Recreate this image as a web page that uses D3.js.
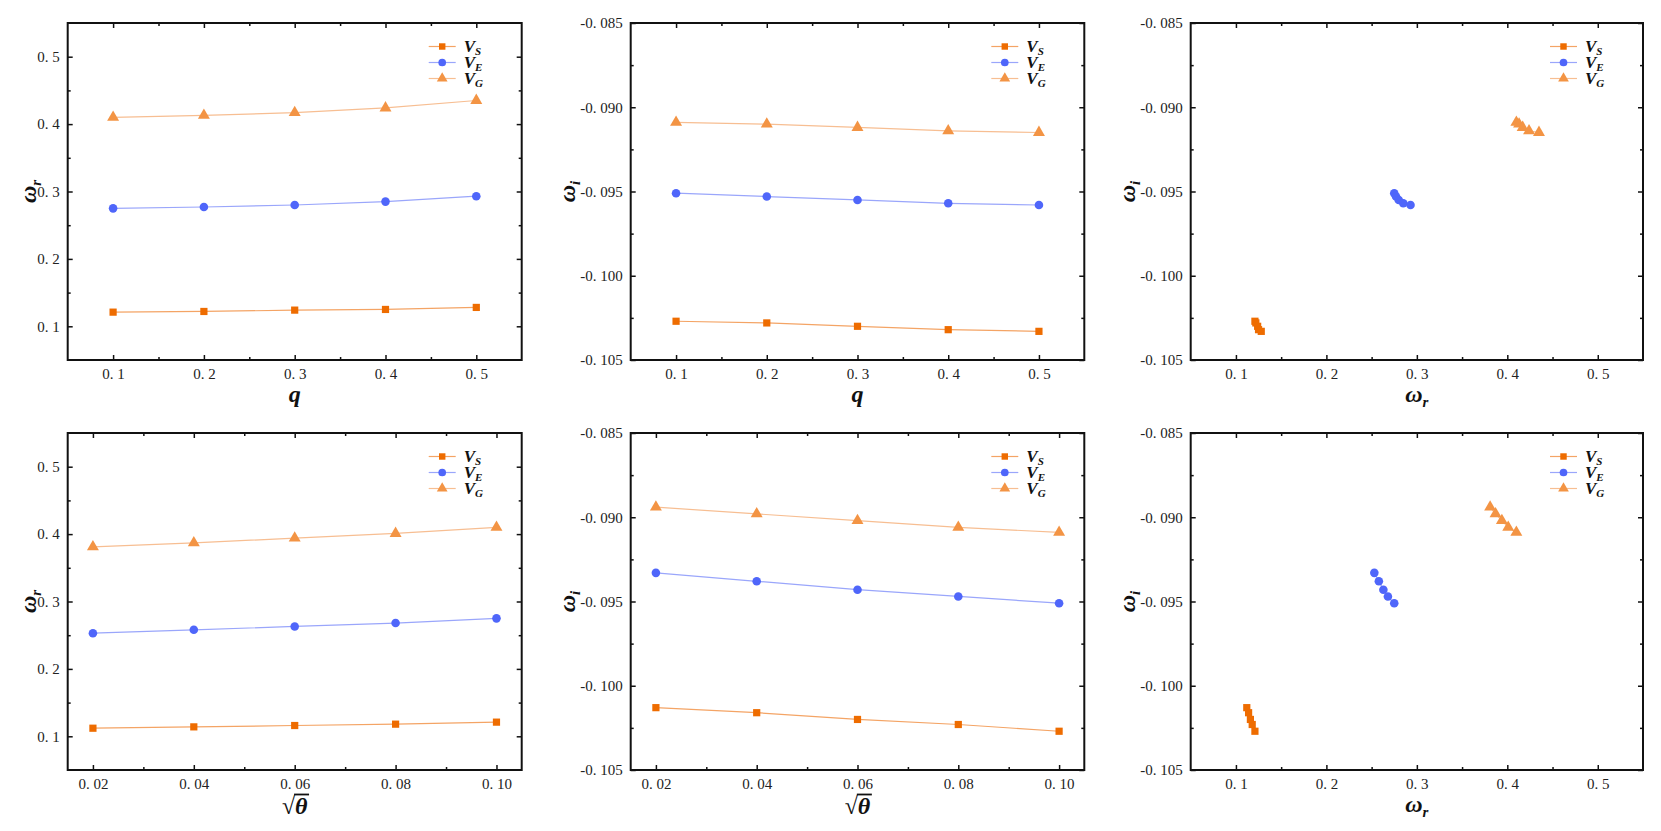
<!DOCTYPE html>
<html>
<head>
<meta charset="utf-8">
<script src="https://cdn.jsdelivr.net/npm/d3@7"></script>
<style>
  body { margin: 0; background: #fff; }
  text { font-family: "Liberation Serif", "DejaVu Serif", serif; }
  .tick text { font-size: 15px; fill: #222; }
  .title { font-size: 24px; font-weight: bold; font-style: italic; fill: #111; }
  .leg { font-size: 17px; font-weight: bold; font-style: italic; fill: #111; }
</style>
</head>
<body>
<svg id="chart" width="1661" height="831"></svg>
<script>
// x values
const qVals = [0.1, 0.2, 0.3, 0.4, 0.5];
const thetaVals = [0.02, 0.04, 0.06, 0.08, 0.10];

// omega_r against q
const wrQ_S = [0.121, 0.122, 0.124, 0.125, 0.128];
const wrQ_E = [0.275, 0.277, 0.280, 0.285, 0.293];
const wrQ_G = [0.410, 0.413, 0.417, 0.424, 0.435];

// omega_i against q
const wiQ_S = [-0.1027, -0.1028, -0.1030, -0.1032, -0.1033];
const wiQ_E = [-0.0951, -0.0953, -0.0955, -0.0957, -0.0958];
const wiQ_G = [-0.0909, -0.0910, -0.0912, -0.0914, -0.0915];

// omega_r against sqrt(theta)
const wrT_S = [0.112, 0.114, 0.116, 0.118, 0.121];
const wrT_E = [0.253, 0.258, 0.263, 0.268, 0.275];
const wrT_G = [0.381, 0.387, 0.394, 0.401, 0.410];

// omega_i against sqrt(theta)
const wiT_S = [-0.1013, -0.1016, -0.1020, -0.1023, -0.1027];
const wiT_E = [-0.0933, -0.0938, -0.0943, -0.0947, -0.0951];
const wiT_G = [-0.0894, -0.0898, -0.0902, -0.0906, -0.0909];

// ticks
const wrTicks = [0.1, 0.2, 0.3, 0.4, 0.5];
const wrMinor = [0.15, 0.25, 0.35, 0.45];
const wiTicks = [-0.085, -0.090, -0.095, -0.100, -0.105];
const wiMinor = [-0.0875, -0.0925, -0.0975, -0.1025];
const qTicks = [0.1, 0.2, 0.3, 0.4, 0.5];
const qMinor = [0.15, 0.25, 0.35, 0.45];
const thetaTicks = [0.02, 0.04, 0.06, 0.08, 0.10];
const thetaMinor = [0.03, 0.05, 0.07, 0.09];

const seriesNames = ["S", "E", "G"];
const markerColor = {S: "#EE6C00", E: "#4F66FA", G: "#F39444"};
const lineColor = {S: "#F4A465", E: "#9AA6FB", G: "#F7BE92"};
const markerShape = {S: d3.symbolSquare, E: d3.symbolCircle, G: d3.symbolTriangle};
const markerSize = {S: 52, E: 58, G: 62};

const svg = d3.select("#chart");

// format like "0. 1" / "-0. 085" as in the picture
const fmt = p => d => d3.format("." + p + "f")(d).replace("\u2212", "-").replace(".", ". ");

const wrAxis = {domain: [0.05, 0.55], ticks: wrTicks, minor: wrMinor, fmt: fmt(1), title: ["ω", "r"]};
const wiAxis = {domain: [-0.105, -0.085], ticks: wiTicks, minor: wiMinor, fmt: fmt(3), title: ["ω", "i"]};
const qAxis = {domain: [0.05, 0.55], ticks: qTicks, minor: qMinor, fmt: fmt(1), title: ["q"]};
const thAxis = {domain: [0.015, 0.105], ticks: thetaTicks, minor: thetaMinor, fmt: fmt(2), title: "sqrt"};

const lefts = [67.7, 630.7, 1190.7];
const widths = [454, 453.6, 452.3];
const tops = [23, 433];
const H = 337;

const panels = [
  {col: 0, row: 0, xa: qAxis, ya: wrAxis, yOff: 32,
   xs: [qVals, qVals, qVals], ys: [wrQ_S, wrQ_E, wrQ_G]},
  {col: 1, row: 0, xa: qAxis, ya: wiAxis, yOff: 56,
   xs: [qVals, qVals, qVals], ys: [wiQ_S, wiQ_E, wiQ_G]},
  {col: 2, row: 0, xa: wrAxis, ya: wiAxis, yOff: 56,
   xs: [wrQ_S, wrQ_E, wrQ_G], ys: [wiQ_S, wiQ_E, wiQ_G]},
  {col: 0, row: 1, xa: thAxis, ya: wrAxis, yOff: 32,
   xs: [thetaVals, thetaVals, thetaVals], ys: [wrT_S, wrT_E, wrT_G]},
  {col: 1, row: 1, xa: thAxis, ya: wiAxis, yOff: 56,
   xs: [thetaVals, thetaVals, thetaVals], ys: [wiT_S, wiT_E, wiT_G]},
  {col: 2, row: 1, xa: wrAxis, ya: wiAxis, yOff: 56,
   xs: [wrT_S, wrT_E, wrT_G], ys: [wiT_S, wiT_E, wiT_G]}
];

function addTitle(g, parts, x, y, rotate) {
  const t = g.append("text").attr("class", "title")
    .attr("text-anchor", "middle")
    .attr("transform", `translate(${x},${y})` + (rotate ? " rotate(-90)" : ""));
  if (parts === "sqrt") {
    t.append("tspan").attr("font-style", "normal").text("√");
    const th = t.append("tspan").text("θ");
    const bb = th.node().getBBox();
    g.append("line")
      .attr("x1", x + bb.x - 1).attr("x2", x + bb.x + bb.width + 1)
      .attr("y1", y + bb.y + 1.5).attr("y2", y + bb.y + 1.5)
      .attr("stroke", "#111").attr("stroke-width", 1.8);
    return;
  }
  t.append("tspan").text(parts[0]);
  if (parts[1]) {
    t.append("tspan").attr("font-size", 15).attr("dy", 5).text(parts[1]);
  }
}

panels.forEach(p => {
  const left = lefts[p.col], w = widths[p.col], top = tops[p.row];
  const x = d3.scaleLinear().domain(p.xa.domain).range([left, left + w]);
  const y = d3.scaleLinear().domain(p.ya.domain).range([top + H, top]);
  const g = svg.append("g");

  // axes: labelled bottom/left, mirrored top/right, all ticks inward
  const ax = (axisFn, scale, vals, size, f) =>
    axisFn(scale).tickValues(vals).tickSize(-size).tickPadding(f ? 8 : 0).tickFormat(f || "");

  const sides = [
    {fn: d3.axisBottom, s: x, tr: `translate(0,${top + H})`, a: p.xa, lab: true},
    {fn: d3.axisTop, s: x, tr: `translate(0,${top})`, a: p.xa, lab: false},
    {fn: d3.axisLeft, s: y, tr: `translate(${left},0)`, a: p.ya, lab: true},
    {fn: d3.axisRight, s: y, tr: `translate(${left + w},0)`, a: p.ya, lab: false}
  ];
  sides.forEach(sd => {
    const major = g.append("g").attr("transform", sd.tr)
      .call(ax(sd.fn, sd.s, sd.a.ticks, 5, sd.lab ? sd.a.fmt : null));
    const minor = g.append("g").attr("transform", sd.tr)
      .call(ax(sd.fn, sd.s, sd.a.minor, 3, null));
    [major, minor].forEach(a => {
      a.attr("font-family", "Liberation Serif").attr("font-size", 15);
      a.select(".domain").remove();
      a.selectAll(".tick line").attr("stroke", "#111").attr("stroke-width", 1.5);
    });
    if (!sd.lab) major.selectAll(".tick text").remove();
    minor.selectAll(".tick text").remove();
  });

  g.append("rect")
    .attr("x", left).attr("y", top).attr("width", w).attr("height", H)
    .attr("fill", "none").attr("stroke", "#111").attr("stroke-width", 2);

  // series
  seriesNames.forEach((name, i) => {
    const pts = p.xs[i].map((xv, k) => [xv, p.ys[i][k]]);
    g.append("path")
      .datum(pts)
      .attr("fill", "none")
      .attr("stroke", lineColor[name])
      .attr("stroke-width", 1.2)
      .attr("d", d3.line().x(d => x(d[0])).y(d => y(d[1])));
    g.selectAll(null)
      .data(pts)
      .enter()
      .append("path")
      .attr("transform", d => `translate(${x(d[0])},${y(d[1])})`)
      .attr("d", d3.symbol().type(markerShape[name]).size(markerSize[name]))
      .attr("fill", markerColor[name]);
  });

  // legend
  const lx = left + w - 93;
  seriesNames.forEach((name, i) => {
    const ly = top + 23.5 + i * 16;
    const lg = g.append("g").attr("transform", `translate(${lx},${ly})`);
    lg.append("line").attr("x1", 0).attr("x2", 27)
      .attr("stroke", lineColor[name]).attr("stroke-width", 1.2);
    lg.append("path")
      .attr("transform", "translate(13.5,0)")
      .attr("d", d3.symbol().type(markerShape[name]).size(markerSize[name] * 0.8))
      .attr("fill", markerColor[name]);
    const t = lg.append("text").attr("class", "leg").attr("x", 35).attr("y", 5);
    t.append("tspan").text("V");
    t.append("tspan").attr("font-size", 11).attr("dy", 3).text(name);
  });

  // axis titles
  addTitle(g, p.xa.title, left + w / 2, top + H + (p.xa.title === "sqrt" ? 44 : 42), false);
  addTitle(g, p.ya.title, left - p.yOff, top + H / 2, true);
});
</script>
</body>
</html>
